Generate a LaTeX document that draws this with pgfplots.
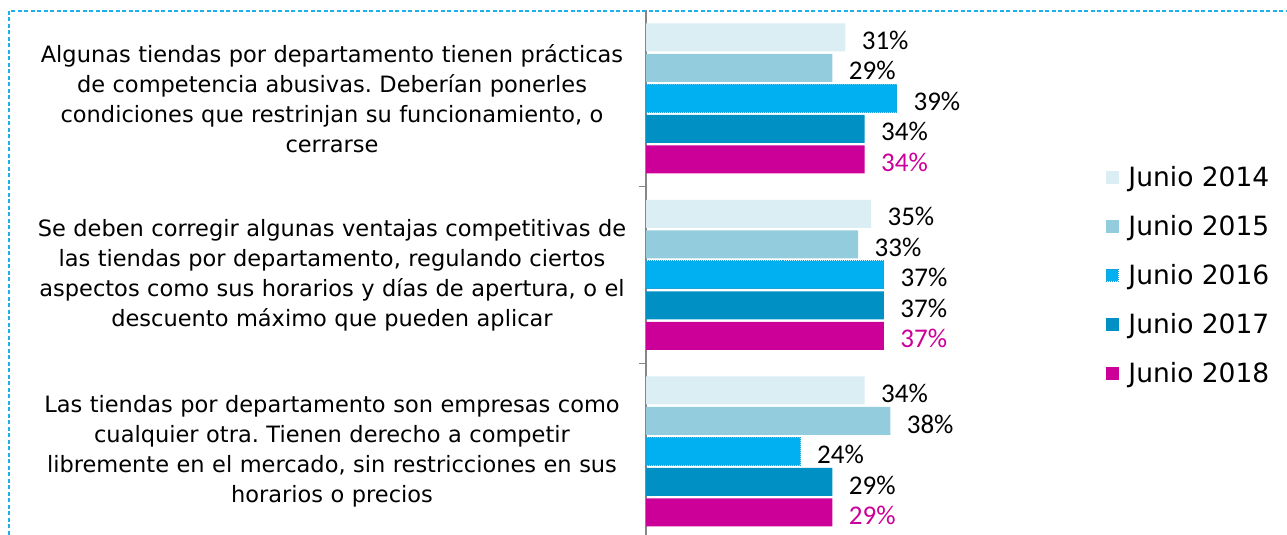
\documentclass[border=0pt]{standalone}
\usepackage{fontspec}
\setmainfont{DejaVu Sans}
\newfontfamily\carlito{Carlito}
\usepackage{pgfplots}
\pgfplotsset{compat=1.18}
\definecolor{cA}{HTML}{DAEEF3}
\definecolor{cB}{HTML}{93CDDD}
\definecolor{cC}{HTML}{00B0F0}
\definecolor{cCb}{HTML}{1A9FD6}
\definecolor{cD}{HTML}{0090C4}
\definecolor{cE}{HTML}{CC0099}
\definecolor{axgray}{HTML}{868686}
\definecolor{brd}{HTML}{1CB0EC}
\frenchspacing
\begin{document}
\begin{tikzpicture}
\path[use as bounding box] (0,0) rectangle (1287bp,535bp);
\draw[brd, line width=1.5bp, dash pattern=on 4bp off 2.5bp] (9bp,0) -- (9bp,524bp) -- (1287bp,524bp);
\begin{axis}[
  at={(646bp,525bp)}, anchor=north west,
  scale only axis, width=385.8bp, height=529.8bp,
  xmin=0, xmax=60, ymin=-0.5, ymax=2.5,
  xbar, bar width=28bp,
  axis x line=none, axis y line*=left,
  y axis line style={axgray, line width=1.2bp},
  ytick={0,1,2},
  yticklabels={{Las tiendas por departamento son empresas como\\cualquier otra. Tienen derecho a competir\\libremente en el mercado, sin restricciones en sus\\horarios o precios},
    {Se deben corregir algunas ventajas competitivas de\\las tiendas por departamento, regulando ciertos\\aspectos como sus horarios y días de apertura, o el\\descuento máximo que pueden aplicar},
    {Algunas tiendas por departamento tienen prácticas\\de competencia abusivas. Deberían ponerles\\condiciones que restrinjan su funcionamiento, o\\cerrarse}},
  yticklabel style={anchor=center, xshift=-314bp, text width=620bp, align=center, inner sep=0pt, font=\fontsize{22.5bp}{30bp}\selectfont},
  major y tick style={draw=none},
  minor ytick={0.5,1.5},
  minor y tick style={axgray, line width=1.2bp},
  tick align=outside, minor tick length=7bp, major tick length=0bp,
  clip=false,
  point meta=explicit symbolic,
  nodes near coords={\pgfplotspointmeta\%},
  every node near coord/.append style={anchor=west, xshift=13bp, yshift=-3bp, font=\carlito\fontsize{27bp}{30bp}\selectfont, black},
  legend style={at={(1.1923,0.7042)}, anchor=north west, draw=none, fill=none, inner sep=0pt, outer sep=0pt,
    row sep=23bp, column sep=0pt,
    nodes={inner sep=0pt, text height=20bp, text depth=6bp, anchor=base west},
    font=\fontsize{26.5bp}{30bp}\selectfont},
  legend cell align=left,
  legend image code/.code={\fill[#1] (0bp,3.2bp) rectangle (13bp,16.2bp); \path (22bp,0bp);},
]
\addplot[fill=cA, draw=none, bar shift=61bp] coordinates {(31,2) [31] (35,1) [35] (34,0) [34]};
\addlegendentry{Junio 2014}
\addplot[fill=cB, draw=none, bar shift=30.5bp] coordinates {(29,2) [29] (33,1) [33] (38,0) [38]};
\addlegendentry{Junio 2015}
\addplot[fill=cC, draw=cCb, densely dotted, line width=1bp, bar shift=0bp,
  legend image code/.code={\draw[fill=cC, draw=cCb, densely dotted, line width=1bp] (0.5bp,3.7bp) rectangle (12.5bp,15.7bp); \path (22bp,0bp);}] coordinates {(39,2) [39] (37,1) [37] (24,0) [24]};
\addlegendentry{Junio 2016}
\addplot[fill=cD, draw=none, bar shift=-30.5bp] coordinates {(34,2) [34] (37,1) [37] (29,0) [29]};
\addlegendentry{Junio 2017}
\addplot[fill=cE, draw=none, bar shift=-61bp, every node near coord/.append style={cE}] coordinates {(34,2) [34] (37,1) [37] (29,0) [29]};
\addlegendentry{Junio 2018}
\end{axis}
\end{tikzpicture}
\end{document}
